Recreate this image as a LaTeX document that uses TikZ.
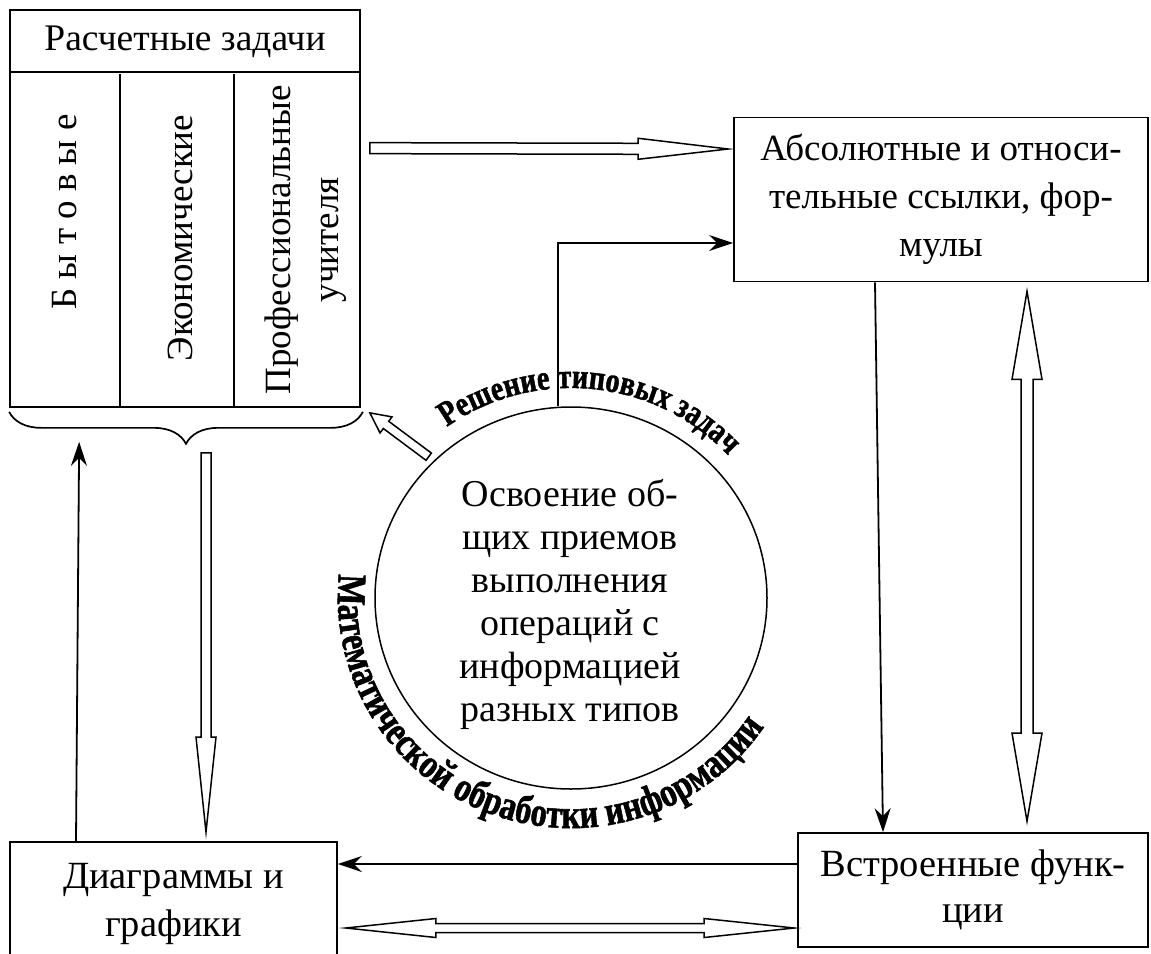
\documentclass[tikz,border=0pt]{standalone}
\usepackage{fontspec}
\setmainfont{Liberation Serif}
\newfontfamily\arcfamilyA[FakeStretch=0.81, BoldFeatures={FakeBold=1.3}]{Liberation Serif}
\newfontfamily\arcfamilyB[FakeStretch=0.8, BoldFeatures={FakeBold=1.3}]{Liberation Serif}
\usetikzlibrary{calc,arrows.meta,decorations.text,decorations.pathreplacing,shapes.geometric}

\newcommand\arclabelfont{\arcfamilyA\fontsize{35}{35}\selectfont\bfseries}
\newcommand\arclabelfontB{\arcfamilyB\fontsize{41}{41}\selectfont\bfseries}

% hollow block arrow with one head: from #1 to #2, shaft half-width #3,
% head half-width #4, head length #5
\newcommand\blockarrow[5]{%
  \draw[blockarr] let \p1=(#1), \p2=(#2),
      \n1={atan2(\y2-\y1,\x2-\x1)},
      \n2={veclen(\x2-\x1,\y2-\y1)-#5} in
    ($(\p1)+({\n1-90}:#3)$) -- ($(\p1)+(\n1:\n2)+({\n1-90}:#3)$)
    -- ($(\p1)+(\n1:\n2)+({\n1-90}:#4)$) -- (\p2)
    -- ($(\p1)+(\n1:\n2)+({\n1+90}:#4)$) -- ($(\p1)+(\n1:\n2)+({\n1+90}:#3)$)
    -- ($(\p1)+({\n1+90}:#3)$) -- cycle;}

% hollow block arrow with heads at both ends
\newcommand\doubleblockarrow[5]{%
  \draw[blockarr] let \p1=(#1), \p2=(#2),
      \n1={atan2(\y2-\y1,\x2-\x1)},
      \n2={veclen(\x2-\x1,\y2-\y1)-#5}, \n3={#5} in
    (\p1) -- ($(\p1)+(\n1:\n3)+({\n1-90}:#4)$) -- ($(\p1)+(\n1:\n3)+({\n1-90}:#3)$)
    -- ($(\p1)+(\n1:\n2)+({\n1-90}:#3)$) -- ($(\p1)+(\n1:\n2)+({\n1-90}:#4)$) -- (\p2)
    -- ($(\p1)+(\n1:\n2)+({\n1+90}:#4)$) -- ($(\p1)+(\n1:\n2)+({\n1+90}:#3)$)
    -- ($(\p1)+(\n1:\n3)+({\n1+90}:#3)$) -- ($(\p1)+(\n1:\n3)+({\n1+90}:#4)$) -- cycle;}

\tikzset{
  lbl/.style={font=\fontsize{37}{48}\selectfont, align=center, inner sep=0pt},
  box/.style={draw, line width=1.7pt, inner sep=0pt, lbl},
  boxline/.style={line width=1.7pt},
  arr/.style={draw, line width=1.8pt, -{Stealth[length=24pt,width=16pt,inset=8pt]}},
  blockarr/.style={draw, fill=white, line width=1.5pt, line join=miter},
}

\begin{document}
\begin{tikzpicture}[x=1pt,y=1pt]
\clip (0,0) rectangle (1151,-953);

% ---- boxes ----
\node[box, minimum width=350pt, minimum height=397pt] (tasks) at (185,-208.5) {};
\node[box, minimum width=414pt, minimum height=164pt] (abs) at (941,-199.5)
  {Абсолютные и относи-\\тельные ссылки, фор-\\мулы};
\node[box, minimum width=350pt, minimum height=114pt,
      font=\fontsize{38.5}{46}\selectfont] (fun) at (973,-890)
  {Встроенные функ-\\ции};
\node[box, minimum width=327pt, minimum height=124pt,
      font=\fontsize{38.5}{48}\selectfont] (dia) at (173.5,-904)
  {Диаграммы и\\графики};
\node[draw, ellipse, line width=1.5pt, minimum width=392pt, minimum height=382pt,
      inner sep=0pt] (circ) at (571,-598) {};
\node[lbl, font=\fontsize{38}{43}\selectfont] (circtext) at (570,-604.5)
  {Освоение об-\\щих приемов\\выполнения\\операций с\\информацией\\разных типов};

% ---- inner layout of the task table ----
\draw[boxline] ($(tasks.north west)+(0,-63)$) -- ($(tasks.north east)+(0,-63)$);
\draw[boxline] ($(tasks.south west)+(111,0)$) -- ++(0,334);
\draw[boxline] ($(tasks.south west)+(225,0)$) -- ++(0,334);
\node[lbl, font=\fontsize{37.5}{48}\selectfont] (title) at (185,-42) {Расчетные задачи};
\node[lbl, rotate=90] (col1) at (65,-212)
  {\makebox[195pt][s]{Б\hfil ы\hfil т\hfil о\hfil в\hfil ы\hfil е}};
\node[lbl, rotate=90] (col2) at (180,-238) {Экономические};
\node[lbl, rotate=90] (col3) at (306,-240) {Профессиональные\\учителя};

% brace under the table
\draw[line width=1.7pt, decorate, decoration={brace, amplitude=32pt}]
  ($(tasks.south east)+(2,-4)$) -- ($(tasks.south west)+(0,-4)$);

% ---- block arrows ----
\coordinate (t1s) at ($(tasks.north east)+(9,-139)$);
\coordinate (t1e) at ($(abs.west)+(-5,50.5)$);
\blockarrow{t1s}{t1e}{5.5}{10.5}{90}

\coordinate (d1s) at ($(circ.135)+(-5,4)$);
\coordinate (d1e) at ($(tasks.south east)+(9,-5)$);
\blockarrow{d1s}{d1e}{4.5}{10}{20}

\coordinate (d2s) at ($(tasks.south)+(21,-45)$);
\coordinate (d2e) at ($(dia.north)+(32.5,9)$);
\blockarrow{d2s}{d2e}{5}{10}{95}

\coordinate (b1s) at ($(dia.east)+(8,-24)$);
\coordinate (b1e) at ($(fun.west)+(-3,-38)$);
\doubleblockarrow{b1s}{b1e}{4.5}{9.5}{90}

\coordinate (r1s) at ($(abs.south)+(86,-9)$);
\coordinate (r1e) at ($(fun.north)+(54,11)$);
\doubleblockarrow{r1s}{r1e}{6}{15}{88}

% ---- line arrows ----
\draw[arr] ([yshift=26pt]fun.west) -- ([yshift=40pt]dia.east);
\draw[arr] ([xshift=-66pt]abs.south) -- ([xshift=-90pt]fun.north);
\draw[arr] ([xshift=-13pt]circ.north) |- ([yshift=-43.5pt]abs.west);
\coordinate (upend) at ($(tasks.south west)+(70,-34)$);
\draw[arr] ([xshift=-97.5pt]dia.north) -- (upend);

% ---- text along the circle ----
\path[decorate, decoration={text along path, text align=center,
      text={|\arclabelfont|Решение типовых задач}}]
  ($(circ.center)+(170:214 and 210)$) arc[start angle=170, end angle=-2, x radius=214, y radius=210];
\path[decorate, decoration={text along path, text align=center,
      text={|\arclabelfontB|Математической обработки информации}}]
  ($(circ.center)+(160:233 and 230)$) arc[start angle=160, end angle=340, x radius=233, y radius=230];
\end{tikzpicture}
\end{document}
